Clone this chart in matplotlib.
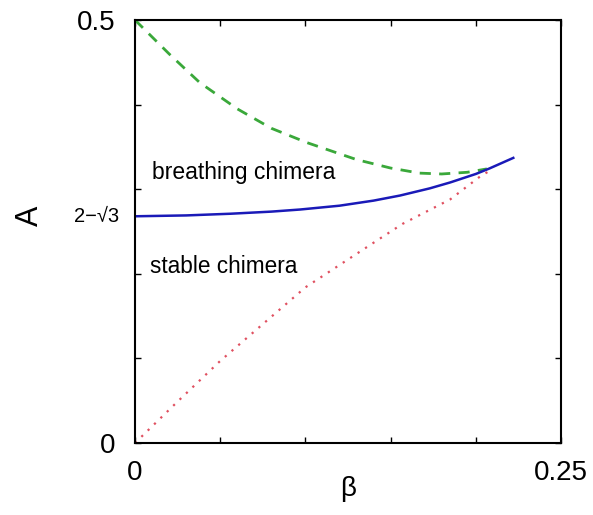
import numpy as np
import matplotlib.pyplot as plt

plt.rcParams['font.family'] = ['Liberation Sans', 'DejaVu Sans']

# saddle-node (green dashed)
sn_beta = [0.0, 0.02, 0.038, 0.06, 0.08, 0.101, 0.13, 0.15, 0.167, 0.18, 0.195, 0.2065]
sn_A = [0.5, 0.46, 0.426, 0.395, 0.372, 0.355, 0.335, 0.325, 0.319, 0.318, 0.320, 0.324]

# Hopf (blue solid)
hopf_beta = [0.0, 0.03, 0.056, 0.08, 0.097, 0.12, 0.14, 0.1555, 0.173, 0.185, 0.2, 0.208, 0.222]
hopf_A = [0.268, 0.269, 0.271, 0.2735, 0.276, 0.2805, 0.2865, 0.2925, 0.301, 0.308, 0.318, 0.3245, 0.337]

# homoclinic (red dotted)
hom_beta = [0.0, 0.025, 0.05, 0.1, 0.144, 0.157, 0.185, 0.2025, 0.21]
hom_A = [0.0, 0.049, 0.097, 0.184, 0.242, 0.259, 0.288, 0.315, 0.324]

fig = plt.figure(figsize=(5.93, 5.15), dpi=100)
ax = fig.add_axes([135 / 593, 1 - 443 / 515, 426 / 593, 423 / 515])

ax.plot(sn_beta, sn_A, color='#3aa83a', linestyle=(0, (4, 3)), linewidth=2)
ax.plot(hopf_beta, hopf_A, color='#1a1ab8', linestyle='-', linewidth=1.8)
ax.plot(hom_beta, hom_A, color='#e05060', linestyle=(0, (1, 3)), linewidth=1.6)

ax.set_xlim(0, 0.25)
ax.set_ylim(0, 0.5)
ax.set_xticks(np.arange(0, 0.2501, 0.05))
ax.set_yticks(np.arange(0, 0.501, 0.1))
ax.set_xticklabels(['0', '', '', '', '', '0.25'])
ax.set_yticklabels(['0', '', '', '', '', '0.5'])
ax.tick_params(direction='in', length=4, width=1, top=True, right=True,
               labelsize=20)
ax.tick_params(axis='y', pad=14)
ax.tick_params(axis='x', pad=12)
for s in ax.spines.values():
    s.set_linewidth(1.5)

ax.text(-0.0225, 2 - np.sqrt(3), '2\u2212\u221a3', ha='center', va='center', fontsize=14.5)

ax.set_xlabel('\u03b2', fontsize=20)
ax.xaxis.set_label_coords(0.5, -(476 - 443) / 423, transform=ax.transAxes)
ax.xaxis.label.set_va('top')
ax.set_ylabel('A', fontsize=22)
ax.yaxis.set_label_coords(-90 / 426, 0.268 / 0.5)

ax.text(0.010, 0.32, 'breathing chimera', fontsize=16.5, va='center')
ax.text(0.009, 0.209, 'stable chimera', fontsize=16.3, va='center')

fig.savefig('out.png', dpi=100)
